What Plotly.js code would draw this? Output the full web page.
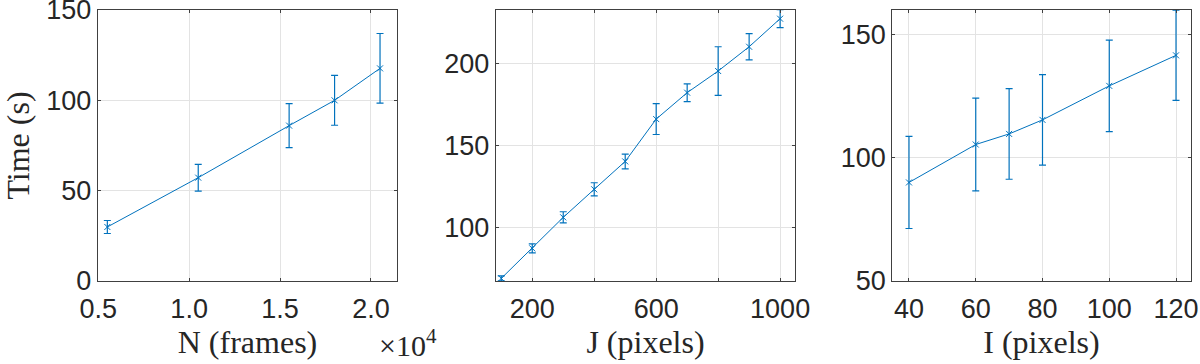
<!DOCTYPE html>
<html>
<head>
<meta charset="utf-8">
<script src="https://cdn.plot.ly/plotly-3.0.1.min.js"></script>
<style>html,body{margin:0;padding:0;background:#fff;}#chart{width:1200px;height:364px;}</style>
</head>
<body>
<div id="chart"></div>
<script>
// Panel 1: N (frames)
const nFrames = [5500, 10500, 15500, 18000, 20500];
const nTime = [29.9, 57.2, 86.0, 100.0, 117.7];
const nErr = [3.6, 7.4, 12.2, 13.8, 19.3];
// Panel 2: J (pixels)
const jPixels = [100, 200, 300, 400, 500, 600, 700, 800, 900, 1000];
const jTime = [68.9, 87.2, 106.1, 123.2, 140.2, 166.0, 182.1, 195.3, 210.1, 227.2];
const jErr = [1.5, 2.7, 3.4, 4.0, 4.5, 9.4, 5.4, 14.8, 8.0, 5.5];
// Panel 3: I (pixels)
const iPixels = [40, 60, 70, 80, 100, 120];
const iTime = [90.0, 105.4, 109.7, 115.4, 129.2, 141.6];
const iErr = [18.7, 18.8, 18.4, 18.4, 18.6, 18.3];
// Tick labels
const nTickVals = [5000, 10000, 15000, 20000];
const nTickText = ['0.5', '1.0', '1.5', '2.0'];
const jTickVals = [200, 400, 600, 800, 1000];
const jTickText = ['200', '', '600', '', '1000'];
const iTickVals = [40, 60, 80, 100, 120];
const iTickText = ['40', '60', '80', '100', '120'];

const blue = '#0072BD';
function series(x, y, e, xa, ya) {
  return {
    x: x, y: y, xaxis: xa, yaxis: ya, type: 'scatter', mode: 'lines+markers',
    line: {color: blue, width: 1},
    marker: {symbol: 'x-thin-open', size: 6, color: blue, line: {color: blue, width: 1}},
    error_y: {type: 'data', array: e, visible: true, color: blue, thickness: 1.2, width: 3.5},
    showlegend: false, cliponaxis: true
  };
}
const data = [
  series(nFrames, nTime, nErr, 'x', 'y'),
  series(jPixels, jTime, jErr, 'x2', 'y2'),
  series(iPixels, iTime, iErr, 'x3', 'y3')
];

const tickFont = {family: 'Liberation Sans, Arial, sans-serif', size: 27, color: '#262626'};
const titleFont = {family: 'Liberation Serif, Times New Roman, serif', size: 32, color: '#262626'};
const H = 364, W = 1200;
const yDom = [1 - 281 / H, 1 - 10 / H];
function ax(dom, extra) {
  return Object.assign({
    domain: dom, showline: true, linecolor: '#404040', linewidth: 1, mirror: 'ticks',
    ticks: 'inside', ticklen: 3, tickcolor: '#404040',
    showgrid: true, gridcolor: '#e3e3e3', gridwidth: 1, zeroline: false,
    tickfont: tickFont, automargin: false, fixedrange: true, ticklabeloverflow: 'allow'
  }, extra);
}
const layout = {
  width: W, height: H,
  margin: {l: 0, r: 0, t: 0, b: 0},
  paper_bgcolor: '#ffffff', plot_bgcolor: '#ffffff',
  xaxis: ax([97.7 / W, 397.3 / W], {range: [4970, 21450], tickvals: nTickVals, ticktext: nTickText, anchor: 'y',
    ticklabelstandoff: 4, title: {text: 'N (frames)', font: titleFont, standoff: 4}}),
  yaxis: ax(yDom, {range: [0, 150], tickvals: [0, 50, 100, 150], anchor: 'x',
    title: {text: 'Time (s)', font: titleFont, standoff: 8}}),
  xaxis2: ax([495.7 / W, 795.3 / W], {range: [82, 1049], tickvals: jTickVals, ticktext: jTickText, anchor: 'y2',
    ticklabelstandoff: 4, title: {text: 'J (pixels)', font: titleFont, standoff: 4}}),
  yaxis2: ax(yDom, {range: [67.3, 232.5], tickvals: [100, 150, 200], anchor: 'x2'}),
  xaxis3: ax([892.3 / W, 1190.7 / W], {range: [35, 124.4], tickvals: iTickVals, ticktext: iTickText, anchor: 'y3',
    ticklabelstandoff: 4, title: {text: 'I (pixels)', font: titleFont, standoff: 4}}),
  yaxis3: ax(yDom, {range: [50, 160], tickvals: [50, 100, 150], anchor: 'x3'}),
  annotations: [{
    text: '×10<sup>4</sup>', xref: 'paper', yref: 'paper', x: 377 / W, y: 1 - 343 / H,
    xanchor: 'left', yanchor: 'middle', showarrow: false,
    font: {family: 'Liberation Serif, Times New Roman, serif', size: 30, color: '#262626'}
  }]
};
Plotly.newPlot('chart', data, layout, {staticPlot: true, displayModeBar: false});
</script>
</body>
</html>
